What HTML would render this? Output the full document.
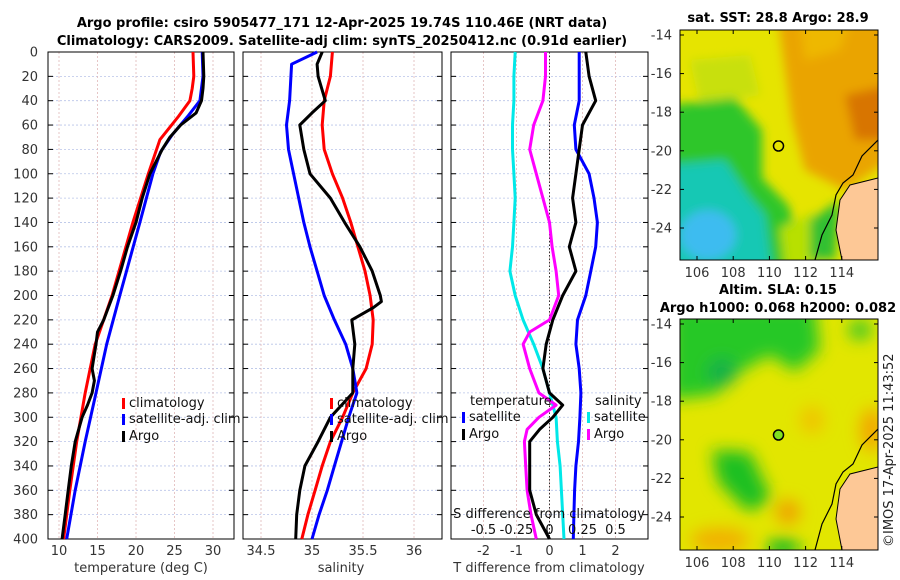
<!DOCTYPE html>
<html><head><meta charset="utf-8">
<style>
html,body{margin:0;padding:0;background:#fff;}
svg{display:block;font-family:"DejaVu Sans","Liberation Sans",sans-serif;}
</style></head>
<body>
<svg id="c" width="900" height="580" viewBox="0 0 900 580" xmlns="http://www.w3.org/2000/svg">
<defs>
<filter id="blur1" x="-10%" y="-10%" width="120%" height="120%"><feGaussianBlur stdDeviation="8"/></filter>
<filter id="blur2" x="-10%" y="-10%" width="120%" height="120%"><feGaussianBlur stdDeviation="5"/></filter>
<clipPath id="clipM1"><rect x="680" y="30" width="198" height="230"/></clipPath>
<clipPath id="clipM2"><rect x="680" y="319" width="198" height="231"/></clipPath>
</defs>
<text x="342" y="27" text-anchor="middle" font-size="13" font-weight="bold">Argo profile: csiro 5905477_171 12-Apr-2025 19.74S 110.46E (NRT data)</text>
<text x="342" y="45" text-anchor="middle" font-size="13" font-weight="bold">Climatology: CARS2009. Satellite-adj clim: synTS_20250412.nc (0.91d earlier)</text>

<g id="g1"></g>
<g id="g2"></g>
<g id="g3"></g>

<!-- SST map -->
<text x="778" y="22" text-anchor="middle" font-size="13" font-weight="bold">sat. SST: 28.8 Argo: 28.9</text>
<g clip-path="url(#clipM1)">
<rect x="680" y="30" width="198" height="230" fill="#e6e400"/>
<g filter="url(#blur2)">
<polygon points="778,20 890,20 890,160 845,190 805,170 792,120" fill="#eaa400"/>
<polygon points="800,20 850,20 840,50 805,60" fill="#eeb800"/>
<polygon points="845,95 890,85 890,140 855,140" fill="#d87400"/>
<polygon points="690,60 750,55 760,95 700,105" fill="#c8e010"/>
<polygon points="670,105 735,98 762,130 762,178 788,205 800,240 790,270 670,270" fill="#2ec62c"/>
<polygon points="670,165 725,160 748,195 765,215 772,270 670,270" fill="#16c8b4"/>
<ellipse cx="708" cy="235" rx="28" ry="25" fill="#3cbcf0"/>
<polygon points="780,228 815,212 825,270 785,270" fill="#b8e000"/>
<polygon points="810,220 840,200 835,260 810,260" fill="#30c030"/>
</g>
<polygon points="878,178 850,185 840,200 836,230 842,260 878,260" fill="#fdc896"/>
<polyline points="878,140 862,156 853,175 843,183 836,195 832,215 822,235 815,260" fill="none" stroke="#000" stroke-width="1.2"/>
<polyline points="878,178 850,185 840,200 836,230 842,260" fill="none" stroke="#000" stroke-width="1"/>
<circle cx="778.5" cy="146" r="5" fill="none" stroke="#000" stroke-width="1.5"/>
</g>
<rect x="680" y="30" width="198" height="230" fill="none" stroke="#000" stroke-width="1"/>

<!-- SLA map -->
<text x="778" y="294" text-anchor="middle" font-size="13" font-weight="bold">Altim. SLA: 0.15</text>
<text x="778" y="312" text-anchor="middle" font-size="13" font-weight="bold">Argo h1000: 0.068 h2000: 0.082</text>
<g clip-path="url(#clipM2)">
<rect x="680" y="319" width="198" height="231" fill="#e2e600"/>
<g filter="url(#blur1)">
<polygon points="670,305 815,305 820,350 795,372 770,355 740,372 715,395 670,400" fill="#26c828"/>
<ellipse cx="722" cy="372" rx="15" ry="14" fill="#12b048"/>
<ellipse cx="860" cy="330" rx="12" ry="10" fill="#40c828"/>
<polygon points="712,450 750,452 772,500 748,512 718,482" fill="#1cc020"/>
<ellipse cx="783" cy="548" rx="18" ry="9" fill="#10b828"/>
<ellipse cx="788" cy="512" rx="12" ry="12" fill="#f0a000"/>
<ellipse cx="720" cy="540" rx="30" ry="12" fill="#f2b000"/>
<ellipse cx="872" cy="430" rx="12" ry="22" fill="#f2a800"/>
<ellipse cx="812" cy="420" rx="12" ry="14" fill="#f0c400"/>
</g>
<polygon points="878,467 850,474 840,489 836,519 842,550 878,550" fill="#fdc896"/>
<polyline points="878,429 862,445 853,464 843,472 836,484 832,504 822,524 815,550" fill="none" stroke="#000" stroke-width="1.2"/>
<polyline points="878,467 850,474 840,489 836,519 842,550" fill="none" stroke="#000" stroke-width="1"/>
<circle cx="778.5" cy="435" r="5" fill="#80e020" stroke="#000" stroke-width="1.5"/>
</g>
<rect x="680" y="319" width="198" height="231" fill="none" stroke="#000" stroke-width="1"/>
<g id="mapaxes" font-size="13" fill="#333"></g>
<text transform="translate(893,547) rotate(-90)" font-size="13" fill="#222">©IMOS 17-Apr-2025 11:43:52</text>
</svg>
<script>
// ---- data ----
const depthTicks = [0,20,40,60,80,100,120,140,160,180,200,220,240,260,280,300,320,340,360,380,400];
const tempTicks = [10,15,20,25,30];
const salTicks = [34.5,35,35.5,36];
const salTickLabels = ["34.5","35","35.5","36"];
const diffTicks = [-2,-1,0,1,2];
const sdiffTicks = [-0.5,-0.25,0,0.25,0.5];
const sdiffTickLabels = ["-0.5","-0.25","0","0.25","0.5"];

const tClimDepth = [0,20,30,40,53,72,100,140,200,240,280,320,360,400];
const tClim      = [27.4,27.5,27.3,27.0,25.5,23.1,21.6,19.6,16.9,14.7,13.4,12.3,11.4,10.6];
const tSatDepth  = [0,20,40,53,68,82,100,140,200,240,280,320,360,400];
const tSat       = [28.6,28.7,28.3,26.7,24.7,23.2,22.2,20.5,17.9,16.2,14.8,13.4,12.1,11.0];
const tArgoDepth = [0,20,30,40,50,60,70,80,100,120,140,160,180,200,220,230,240,260,270,280,290,300,320,340,360,380,400];
const tArgo      = [28.7,28.8,28.7,28.5,27.8,25.8,24.4,23.4,21.8,20.8,20.0,18.9,18.0,17.0,15.8,15.0,14.8,14.3,14.6,14.3,13.7,13.0,12.1,11.6,11.2,10.8,10.4];

const sClimDepth = [0,20,40,60,80,100,120,140,160,180,200,220,240,260,280,300,320,340,360,380,400];
const sClim      = [35.2,35.18,35.12,35.1,35.12,35.2,35.3,35.38,35.45,35.52,35.57,35.6,35.59,35.53,35.4,35.3,35.18,35.1,35.03,34.96,34.9];
const sSatDepth  = [0,10,40,60,80,100,140,160,180,200,220,240,260,280,300,320,340,360,380,400];
const sSat       = [35.05,34.8,34.78,34.75,34.77,34.82,34.92,34.98,35.05,35.12,35.22,35.33,35.4,35.44,35.36,35.29,35.22,35.15,35.07,35.0];
const sArgoDepth = [0,10,20,40,50,60,70,80,100,120,140,160,180,200,205,210,220,240,260,280,290,300,320,340,360,380,400];
const sArgo      = [35.1,35.05,35.06,35.13,35.0,34.88,34.9,34.92,34.98,35.18,35.32,35.47,35.59,35.67,35.68,35.6,35.39,35.42,35.4,35.4,35.29,35.18,35.06,34.93,34.88,34.85,34.84];

const dDepth    = [0,20,40,60,80,100,120,140,160,180,200,220,240,260,280,300,320,340,360,380,400];
const dTSat     = [0.9,0.9,0.9,0.75,0.8,1.2,1.35,1.45,1.4,1.25,1.1,0.85,0.8,0.9,0.95,0.92,0.88,0.8,0.76,0.74,0.72];
const dTArgoDepth = [0,20,40,60,80,100,120,140,160,180,200,220,240,260,280,290,300,310,320,340,360,380,400];
const dTArgo    = [1.1,1.2,1.4,1.0,0.9,0.8,0.7,0.8,0.6,0.8,0.4,0.1,-0.1,-0.2,0.0,0.4,0.1,-0.3,-0.6,-0.6,-0.6,-0.4,0.0];
const dSSat     = [-0.26,-0.27,-0.27,-0.28,-0.28,-0.27,-0.26,-0.27,-0.28,-0.3,-0.26,-0.2,-0.12,-0.05,0.0,0.05,0.06,0.08,0.09,0.1,0.11];
const dSArgoDepth = [0,20,40,60,80,100,120,140,160,180,200,220,230,240,260,280,290,300,310,320,340,360,380,400];
const dSArgo    = [-0.03,-0.03,-0.05,-0.12,-0.15,-0.1,-0.05,0.0,0.02,0.05,0.07,0.0,-0.15,-0.2,-0.15,-0.08,0.05,-0.08,-0.17,-0.19,-0.18,-0.17,-0.14,-0.1];

const lonTicks = [106,108,110,112,114];
const latTicks = [-14,-16,-18,-20,-22,-24];

// ---- scales ----
const Y0=52, Y1=539;
const yD = d => Y0 + d*(Y1-Y0)/400;
const xT = t => 59 + (t-10)*7.7;
const xS = s => 312 + (s-35)*102;
const xDT = d => 549.5 + d*33;
const xDS = s => 549.5 + s*132;
const mapX = lon => 697 + (lon-106)*18.1;
const mapY1 = lat => 35 + (-14-lat)*19.3;
const mapY2 = lat => 324 + (-14-lat)*19.3;

const NS='http://www.w3.org/2000/svg';
function mk(parent, tag, attrs, text){
  const e=document.createElementNS(NS,tag);
  for(const k in attrs) e.setAttribute(k,attrs[k]);
  if(text!==undefined) e.textContent=text;
  parent.appendChild(e); return e;
}
function line(parent, xs, ys, xf, color, name){
  let d='';
  for(let i=0;i<xs.length;i++) d+=(i?'L':'M')+xf(xs[i]).toFixed(1)+','+yD(ys[i]).toFixed(1);
  const p=mk(parent,'path',{d:d,fill:'none',stroke:color,'stroke-width':3,'stroke-linejoin':'round'});
  
  
  return p;
}
function panel(g, L, R, vticks, vfx, name){
  depthTicks.forEach(d=>{
    if(d===0||d===400) return;
    const l=mk(g,'line',{x1:L,x2:R,y1:yD(d),y2:yD(d),stroke:'#b8c4e8','stroke-width':0.8,'stroke-dasharray':'2,2'});
    
    
    mk(g,'line',{x1:L,x2:L+5,y1:yD(d),y2:yD(d),stroke:'#000','stroke-width':1});
    mk(g,'line',{x1:R-5,x2:R,y1:yD(d),y2:yD(d),stroke:'#000','stroke-width':1});
  });
  vticks.forEach(v=>{
    const x=vfx(v);
    const l=mk(g,'line',{x1:x,x2:x,y1:Y0,y2:Y1,stroke:'#e0b8b8','stroke-width':0.8,'stroke-dasharray':'2,2'});
    
    
  });
  const f=mk(g,'rect',{x:L,y:Y0,width:R-L,height:Y1-Y0,fill:'none',stroke:'#000','stroke-width':1});
  
  
}

// panel 1
const g1=document.getElementById('g1');
panel(g1,48,234,tempTicks,xT,'temperature-panel');
depthTicks.forEach(d=>{
  const t=mk(g1,'text',{x:38,y:yD(d)+4.5,'text-anchor':'end','font-size':13,fill:'#333'},String(d));
  
  
});
tempTicks.forEach(v=>{
  const t=mk(g1,'text',{x:xT(v),y:555,'text-anchor':'middle','font-size':13,fill:'#333'},String(v));
  
  
});
let at=mk(g1,'text',{x:141,y:572,'text-anchor':'middle','font-size':13,fill:'#333'},'temperature (deg C)');


line(g1,tClim,tClimDepth,xT,'#ff0000','temperature-climatology-line');
line(g1,tSat,tSatDepth,xT,'#0000ff','temperature-satellite-line');
line(g1,tArgo,tArgoDepth,xT,'#000000','temperature-argo-line');

function legend(g,x,y,color,label,name){
  const b=mk(g,'rect',{x:x,y:y-9,width:3,height:11,fill:color});
  
  
  const t=mk(g,'text',{x:x+7,y:y,'font-size':13,fill:'#111'},label);
  
  
}
legend(g1,122,407,'#ff0000','climatology','legend-climatology');
legend(g1,122,423,'#0000ff','satellite-adj. clim','legend-satellite');
legend(g1,122,440,'#000000','Argo','legend-argo');

// panel 2
const g2=document.getElementById('g2');
panel(g2,243,442,salTicks,xS,'salinity-panel');
salTicks.forEach((v,i)=>{
  const t=mk(g2,'text',{x:xS(v),y:555,'text-anchor':'middle','font-size':13,fill:'#333'},salTickLabels[i]);
  
  
});
at=mk(g2,'text',{x:341,y:572,'text-anchor':'middle','font-size':13,fill:'#333'},'salinity');


line(g2,sClim,sClimDepth,xS,'#ff0000','salinity-climatology-line');
line(g2,sSat,sSatDepth,xS,'#0000ff','salinity-satellite-line');
line(g2,sArgo,sArgoDepth,xS,'#000000','salinity-argo-line');
legend(g2,330,407,'#ff0000','climatology','legend-climatology-sal');
legend(g2,330,423,'#0000ff','satellite-adj. clim','legend-satellite-sal');
legend(g2,330,440,'#000000','Argo','legend-argo-sal');

// panel 3
const g3=document.getElementById('g3');
panel(g3,451,648,diffTicks,xDT,'difference-panel');
const z=mk(g3,'line',{x1:xDT(0),x2:xDT(0),y1:Y0,y2:Y1,stroke:'#333','stroke-width':1,'stroke-dasharray':'1.5,2'});


line(g3,dTSat,dDepth,xDT,'#0000ff','tdiff-satellite-line');
line(g3,dSSat,dDepth,xDS,'#00e8e8','sdiff-satellite-line');
line(g3,dSArgo,dSArgoDepth,xDS,'#ff00ff','sdiff-argo-line');
line(g3,dTArgo,dTArgoDepth,xDT,'#000000','tdiff-argo-line');
diffTicks.forEach(v=>{
  const t=mk(g3,'text',{x:xDT(v),y:555,'text-anchor':'middle','font-size':13,fill:'#333'},String(v));
  
  
});
sdiffTicks.forEach((v,i)=>{
  const t=mk(g3,'text',{x:xDS(v),y:534,'text-anchor':'middle','font-size':13,fill:'#111'},sdiffTickLabels[i]);
  
  
});
at=mk(g3,'text',{x:549,y:518,'text-anchor':'middle','font-size':13,fill:'#111'},'S difference from climatology');


at=mk(g3,'text',{x:549,y:572,'text-anchor':'middle','font-size':13,fill:'#333'},'T difference from climatology');


at=mk(g3,'text',{x:470,y:405,'font-size':13,fill:'#111'},'temperature');


at=mk(g3,'text',{x:595,y:405,'font-size':13,fill:'#111'},'salinity');


legend(g3,462,421,'#0000ff','satellite','legend-tdiff-satellite');
legend(g3,462,438,'#000000','Argo','legend-tdiff-argo');
legend(g3,587,421,'#00e8e8','satellite','legend-sdiff-satellite');
legend(g3,587,438,'#ff00ff','Argo','legend-sdiff-argo');

// map axes
const ma=document.getElementById('mapaxes');
[[mapY1,30,260],[mapY2,319,550]].forEach(([fy,top,bot])=>{
  latTicks.forEach(v=>{
    const y=fy(v);
    const t=mk(ma,'text',{x:672,y:y+4.5,'text-anchor':'end'},String(v));
    
    
    mk(ma,'line',{x1:680,x2:684,y1:y,y2:y,stroke:'#000'});
    mk(ma,'line',{x1:874,x2:878,y1:y,y2:y,stroke:'#000'});
  });
  lonTicks.forEach(v=>{
    const x=mapX(v);
    const t=mk(ma,'text',{x:x,y:bot+17,'text-anchor':'middle'},String(v));
    
    
    mk(ma,'line',{x1:x,x2:x,y1:top,y2:top+4,stroke:'#000'});
    mk(ma,'line',{x1:x,x2:x,y1:bot-4,y2:bot,stroke:'#000'});
  });
});
</script>
</body></html>
